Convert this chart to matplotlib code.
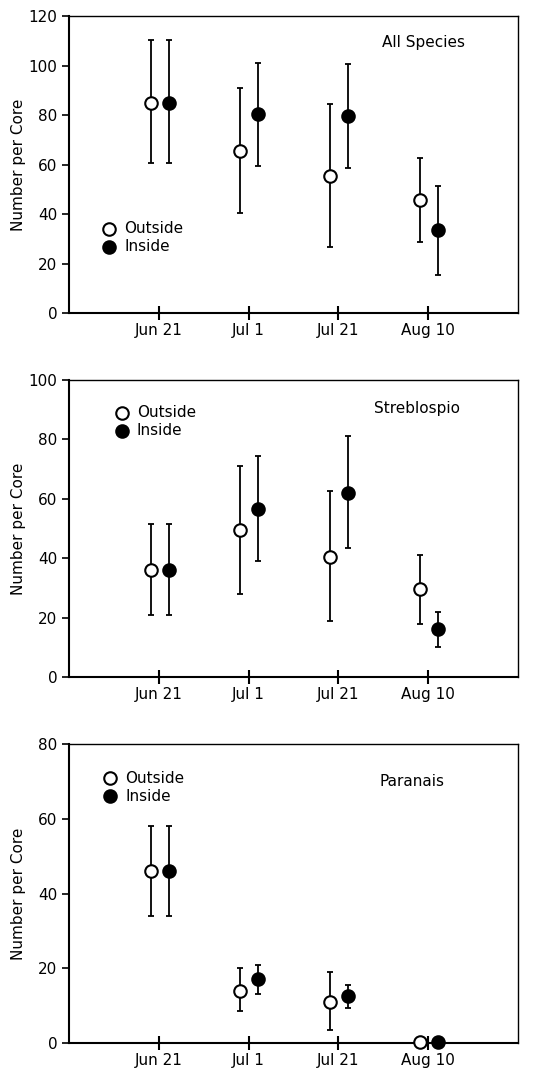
import matplotlib

matplotlib.use("Agg")
import matplotlib.pyplot as plt

dates = ["Jun 21", "Jul 1", "Jul 21", "Aug 10"]

# all species
all_out = [85, 65.5, 55.5, 45.5]
all_out_lo = [60.5, 40.5, 26.5, 28.5]
all_out_hi = [110.5, 91, 84.5, 62.5]
all_in = [85, 80.5, 79.5, 33.5]
all_in_lo = [60.5, 59.5, 58.5, 15.5]
all_in_hi = [110.5, 101, 100.5, 51.5]

# streblospio
str_out = [36, 49.5, 40.5, 29.5]
str_out_lo = [21, 28, 19, 18]
str_out_hi = [51.5, 71, 62.5, 41]
str_in = [36, 56.5, 62, 16]
str_in_lo = [21, 39, 43.5, 10]
str_in_hi = [51.5, 74.5, 81, 22]

# paranais
par_out = [46, 14, 11, 0.3]
par_out_lo = [34, 8.5, 3.5, 0.3]
par_out_hi = [58, 20, 19, 0.3]
par_in = [46, 17, 12.5, 0.3]
par_in_lo = [34, 13, 9.5, 0.3]
par_in_hi = [58, 21, 15.5, 0.3]

plt.rcParams["font.family"] = ["DejaVu Sans"]

fig = plt.figure(figsize=(5.52, 10.72), dpi=100)

panels = [
    dict(rect=[0.125, 0.708, 0.813, 0.277], ymax=120, step=20, label="All Species",
         lab_xy=(0.79, 0.91), leg_xy=(0.09, 0.283),
         out=(all_out, all_out_lo, all_out_hi), inn=(all_in, all_in_lo, all_in_hi)),
    dict(rect=[0.125, 0.3685, 0.813, 0.277], ymax=100, step=20, label="Streblospio",
         lab_xy=(0.775, 0.905), leg_xy=(0.118, 0.89),
         out=(str_out, str_out_lo, str_out_hi), inn=(str_in, str_in_lo, str_in_hi)),
    dict(rect=[0.125, 0.027, 0.813, 0.279], ymax=80, step=20, label="Paranais",
         lab_xy=(0.765, 0.875), leg_xy=(0.092, 0.885),
         out=(par_out, par_out_lo, par_out_hi), inn=(par_in, par_in_lo, par_in_hi)),
]

x = [1, 2, 3, 4]
for p in panels:
    ax = fig.add_axes(p["rect"])
    for (vals, lo, hi), dx, face in ((p["out"], -0.09, "white"), (p["inn"], 0.11, "black")):
        xs = [xi + dx for xi in x]
        yerr = [[v - l for v, l in zip(vals, lo)], [h - v for v, h in zip(vals, hi)]]
        ax.errorbar(xs, vals, yerr=yerr, fmt="none", ecolor="black", elinewidth=1.3,
                    capsize=2.5, capthick=1.3, zorder=2)
        ax.plot(xs, vals, "o", ms=9, mfc=face, mec="black", mew=1.5, zorder=3,
                clip_on=False)

    ax.set_xlim(0, 5)
    ax.set_ylim(0, p["ymax"])
    ax.set_xticks(x)
    ax.set_xticklabels(dates, fontsize=11)
    ax.set_yticks(range(0, p["ymax"] + 1, p["step"]))
    ax.tick_params(axis="y", direction="out", length=5, width=1.2, labelsize=11)
    ax.tick_params(axis="x", direction="inout", length=10, width=1.5, pad=2)
    ax.set_ylabel("Number per Core", fontsize=11)
    ax.yaxis.set_label_coords(-0.095, 0.5)
    for s in ("left", "bottom"):
        ax.spines[s].set_linewidth(1.5)
    for s in ("top", "right"):
        ax.spines[s].set_linewidth(1.0)

    ax.text(*p["lab_xy"], p["label"], transform=ax.transAxes, fontsize=11,
            ha="center", va="center")
    lx, ly = p["leg_xy"]
    ax.plot([lx], [ly], "o", ms=9, mfc="white", mec="black", mew=1.5,
            transform=ax.transAxes)
    ax.plot([lx], [ly - 0.06], "o", ms=9, mfc="black", mec="black", mew=1.5,
            transform=ax.transAxes)
    ax.text(lx + 0.033, ly, "Outside", transform=ax.transAxes, fontsize=11, va="center")
    ax.text(lx + 0.033, ly - 0.06, "Inside", transform=ax.transAxes, fontsize=11, va="center")

fig.savefig("out.png", dpi=100)
